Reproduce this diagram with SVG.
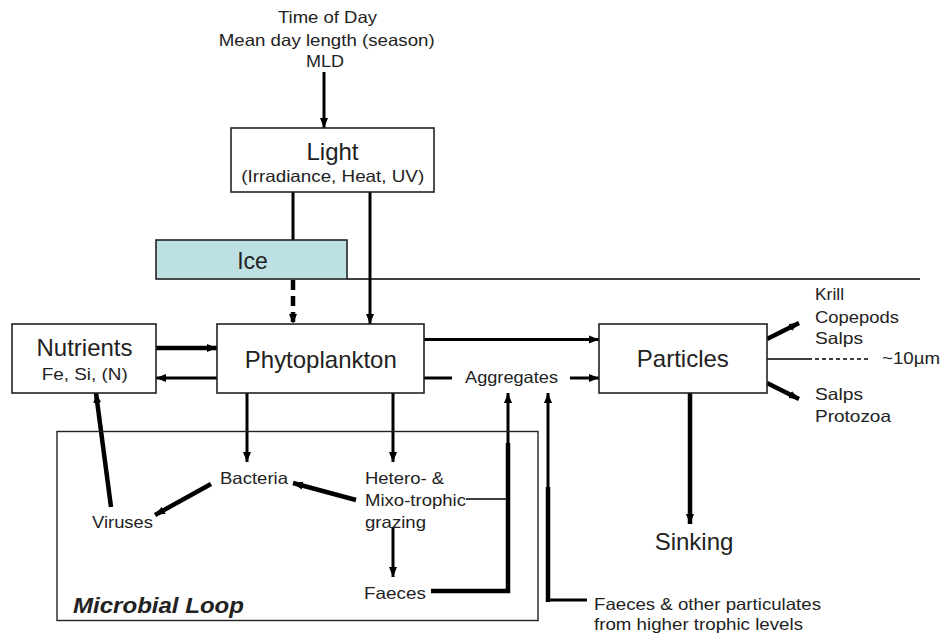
<svg xmlns="http://www.w3.org/2000/svg" width="943" height="634" viewBox="0 0 943 634">
  <style>
    .box { fill: #ffffff; stroke: #222; stroke-width: 1.6; }
    .ice { fill: #bde0e3; stroke: #222; stroke-width: 1.6; }
    .frame { fill: none; stroke: #222; stroke-width: 1.4; }
    .big { font-family: "Liberation Sans", Arial, sans-serif; font-size: 24px; fill: #222; }
    .small { font-family: "Liberation Sans", Arial, sans-serif; font-size: 16.5px; fill: #222; }
    .mid { text-anchor: middle; }
    .title { font-family: "Liberation Sans", Arial, sans-serif; font-size: 22px; font-weight: bold; font-style: italic; fill: #222; }
    .ln { fill: none; stroke: #000; stroke-width: 3; }
    .thick { fill: none; stroke: #000; stroke-width: 4.5; }
    .thin { fill: none; stroke: #000; stroke-width: 1.5; }
    .arr { marker-end: url(#head); }
  </style>
  <defs>
    <marker id="head" markerUnits="userSpaceOnUse" markerWidth="10" markerHeight="10" viewBox="0 0 10 10" refX="10" refY="5" orient="auto">
      <path d="M0,1 L10,5 L0,9 z" fill="#000"/>
    </marker>
  </defs>

  <!-- surface line beside the ice -->
  <line class="thin" x1="347" y1="279" x2="920" y2="279"/>

  <!-- connectors -->
  <g id="connectors">
    <!-- drivers of light -->
    <line class="ln arr" x1="324" y1="72" x2="324" y2="128"/>
    <!-- light through ice / direct -->
    <line class="ln" x1="293" y1="192" x2="293" y2="240"/>
    <line class="thick arr" x1="293" y1="280" x2="293" y2="324" stroke-dasharray="10 6"/>
    <line class="ln arr" x1="370" y1="192" x2="370" y2="324"/>
    <!-- nutrients exchange -->
    <line class="thick arr" x1="156" y1="348" x2="217" y2="348"/>
    <line class="ln arr" x1="217" y1="378" x2="156" y2="378"/>
    <!-- phytoplankton to particles / aggregates -->
    <line class="ln arr" x1="424" y1="339.5" x2="599" y2="339.5"/>
    <line class="ln" x1="424" y1="378" x2="452" y2="378"/>
    <line class="ln arr" x1="570" y1="378" x2="599" y2="378"/>
    <!-- phytoplankton into microbial loop -->
    <line class="ln arr" x1="247" y1="393" x2="247" y2="462"/>
    <line class="ln arr" x1="393" y1="393" x2="393" y2="462"/>
    <!-- microbial loop internals -->
    <line class="thick arr" x1="356" y1="500" x2="293" y2="483"/>
    <line class="thick arr" x1="211" y1="484" x2="155" y2="515"/>
    <line class="thick arr" x1="111" y1="507" x2="96" y2="393"/>
    <line class="ln arr" x1="393" y1="527" x2="393" y2="577"/>
    <!-- grazing and faeces to aggregates -->
    <line class="thin" x1="466" y1="499" x2="508" y2="499" stroke-width="2.2"/>
    <path class="thick" d="M431,591 L508,591 L508,443" stroke-width="5"/>
    <line class="ln arr" x1="508" y1="445" x2="508" y2="393"/>
    <!-- higher trophic particulates to aggregates -->
    <path class="ln" d="M587,600 L548,600"/>
    <line class="thick" x1="548" y1="602" x2="548" y2="487" stroke-width="5"/>
    <line class="ln arr" x1="548" y1="489" x2="548" y2="393"/>
    <!-- particles outputs -->
    <line class="thick arr" x1="690" y1="393" x2="690" y2="524" stroke-width="5"/>
    <line class="thick arr" x1="767" y1="339" x2="799" y2="323"/>
    <line class="thick arr" x1="767" y1="383" x2="799" y2="399"/>
    <line class="thin" x1="767" y1="359" x2="808" y2="359"/>
    <line class="thin" x1="808" y1="359" x2="870" y2="359" stroke-dasharray="4 3"/>
  </g>

  <!-- drivers of light -->
  <g id="drivers">
    <text class="small mid" x="327.5" y="23" textLength="99" lengthAdjust="spacingAndGlyphs">Time of Day</text>
    <text class="small mid" x="326.7" y="45.5" textLength="216" lengthAdjust="spacingAndGlyphs">Mean day length (season)</text>
    <text class="small mid" x="325" y="66.5" textLength="38" lengthAdjust="spacingAndGlyphs">MLD</text>
  </g>

  <g id="light">
    <rect class="box" x="231" y="128" width="203" height="64"/>
    <text class="big mid" x="332.5" y="159.5">Light</text>
    <text class="small mid" x="332.7" y="182" textLength="183" lengthAdjust="spacingAndGlyphs">(Irradiance, Heat, UV)</text>
  </g>

  <g id="ice">
    <rect class="ice" x="156" y="240" width="191" height="39"/>
    <text class="big mid" x="252.5" y="269" style="font-size:23px">Ice</text>
  </g>

  <g id="nutrients">
    <rect class="box" x="12" y="324" width="144" height="69"/>
    <text class="big mid" x="84.5" y="356">Nutrients</text>
    <text class="small mid" x="84.7" y="379.5" textLength="86" lengthAdjust="spacingAndGlyphs">Fe, Si, (N)</text>
  </g>

  <g id="phytoplankton">
    <rect class="box" x="217" y="324" width="207" height="69"/>
    <text class="big mid" x="320.8" y="367.5" textLength="152" lengthAdjust="spacingAndGlyphs">Phytoplankton</text>
  </g>

  <g id="aggregates">
    <text class="small" x="465" y="383" textLength="93" lengthAdjust="spacingAndGlyphs">Aggregates</text>
  </g>

  <g id="particles">
    <rect class="box" x="599" y="324" width="168" height="69"/>
    <text class="big mid" x="682.8" y="367">Particles</text>
  </g>

  <g id="grazers-large">
    <text class="small" x="815" y="300" textLength="29" lengthAdjust="spacingAndGlyphs">Krill</text>
    <text class="small" x="815" y="322.5" textLength="84" lengthAdjust="spacingAndGlyphs">Copepods</text>
    <text class="small" x="815" y="344" textLength="48" lengthAdjust="spacingAndGlyphs">Salps</text>
  </g>

  <g id="size-threshold">
    <text class="small" x="882" y="363.5" textLength="58" lengthAdjust="spacingAndGlyphs">~10µm</text>
  </g>

  <g id="grazers-small">
    <text class="small" x="815" y="399.5" textLength="48" lengthAdjust="spacingAndGlyphs">Salps</text>
    <text class="small" x="815" y="421.5" textLength="76" lengthAdjust="spacingAndGlyphs">Protozoa</text>
  </g>

  <g id="sinking">
    <text class="big mid" x="694" y="550">Sinking</text>
  </g>

  <g id="microbial-loop">
    <rect class="frame" x="57" y="431.5" width="481" height="189"/>
    <text class="title" x="73" y="613" textLength="171" lengthAdjust="spacingAndGlyphs">Microbial Loop</text>
  </g>

  <g id="bacteria">
    <text class="small" x="220" y="484" textLength="68" lengthAdjust="spacingAndGlyphs">Bacteria</text>
  </g>

  <g id="viruses">
    <text class="small" x="92" y="528" textLength="61" lengthAdjust="spacingAndGlyphs">Viruses</text>
  </g>

  <g id="grazing">
    <text class="small" x="365" y="484" textLength="79" lengthAdjust="spacingAndGlyphs">Hetero- &amp;</text>
    <text class="small" x="365" y="506" textLength="101" lengthAdjust="spacingAndGlyphs">Mixo-trophic</text>
    <text class="small" x="365" y="527.5" textLength="61" lengthAdjust="spacingAndGlyphs">grazing</text>
  </g>

  <g id="faeces">
    <text class="small" x="364" y="598.5" textLength="62" lengthAdjust="spacingAndGlyphs">Faeces</text>
  </g>

  <g id="higher-trophic">
    <text class="small" x="594" y="609.5" textLength="227" lengthAdjust="spacingAndGlyphs">Faeces &amp; other particulates</text>
    <text class="small" x="594" y="629.5" textLength="209" lengthAdjust="spacingAndGlyphs">from higher trophic levels</text>
  </g>
</svg>
